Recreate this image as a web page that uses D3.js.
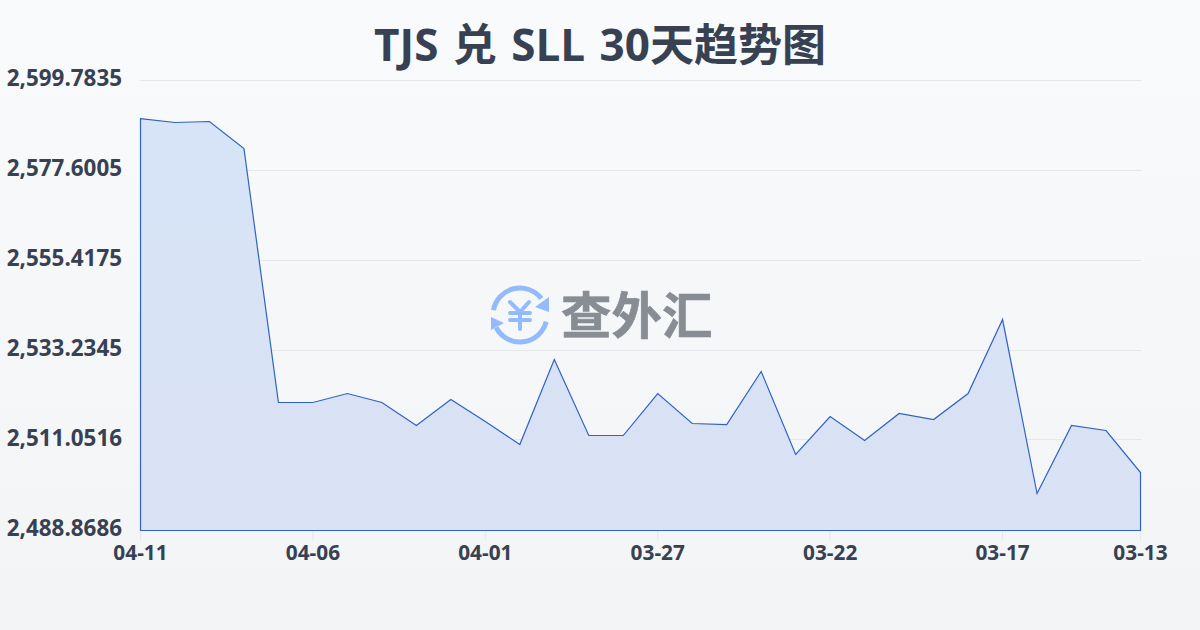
<!DOCTYPE html>
<html><head><meta charset="utf-8">
<script src="https://cdn.jsdelivr.net/npm/d3@7/dist/d3.min.js"></script>
<style>html,body{margin:0;padding:0;background:#f5f6f8}svg{display:block}</style>
</head><body><div id="c"></div>
<script>
const titleText = "TJS 兑 SLL 30天趋势图";
const watermarkText = "查外汇";
const dates = ["04-11","04-10","04-09","04-08","04-07","04-06","04-05","04-04","04-03","04-02","04-01","03-31","03-30","03-29","03-28","03-27","03-26","03-25","03-24","03-23","03-22","03-21","03-20","03-19","03-18","03-17","03-16","03-15","03-14","03-13"];
const rates = [2590.41,2589.43,2589.68,2583.02,2520.42,2520.42,2522.63,2520.42,2514.75,2521.16,2515.73,2510.06,2531.02,2512.28,2512.28,2522.63,2515.24,2514.99,2528.06,2507.60,2516.97,2511.05,2517.71,2516.23,2522.63,2540.87,2497.99,2514.75,2513.51,2503.16];
const yTicks = [2488.8686,2511.0516,2533.2345,2555.4175,2577.6005,2599.7835];
const xTickIdx = [0,5,10,15,20,25,29];

const W=1200,H=630,L=140.5,R=1140.5,T=80.5,B=530.5;
const FONT='"Open Sans","Noto Sans CJK SC",sans-serif';
const svg=d3.select("#c").append("svg").attr("width",W).attr("height",H).attr("viewBox",`0 0 ${W} ${H}`);
const defs=svg.append("defs");
const bg=defs.append("linearGradient").attr("id","bg").attr("x1",0).attr("y1",0).attr("x2",0).attr("y2",1);
bg.append("stop").attr("offset",0).attr("stop-color","#f8fafc");
bg.append("stop").attr("offset",1).attr("stop-color","#f3f4f6");
const ag=defs.append("linearGradient").attr("id","ag").attr("x1",0).attr("y1",0).attr("x2",0).attr("y2",1);
ag.append("stop").attr("offset",0).attr("stop-color","#d6e3f7");
ag.append("stop").attr("offset",1).attr("stop-color","#d9e1f4");
svg.append("rect").attr("width",W).attr("height",H).attr("fill","url(#bg)");

const x=d3.scaleLinear().domain([0,dates.length-1]).range([L,R]);
const y=d3.scaleLinear().domain([yTicks[0],yTicks[yTicks.length-1]]).range([B,T]);

svg.append("g").selectAll("line").data(yTicks).join("line")
 .attr("x1",L).attr("x2",R+1).attr("y1",d=>Math.round(y(d))-.5).attr("y2",d=>Math.round(y(d))-.5)
 .attr("stroke","#e5e7eb").attr("stroke-width",1);

const wm=svg.append("g");
const ic=wm.append("g").attr("transform","translate(520,315)").attr("fill","none").attr("stroke","#93bbfb");
ic.append("path").attr("stroke-width",5).attr("stroke-linecap","round")
 .attr("d",d3.arc()({innerRadius:27,outerRadius:27,startAngle:-1.39,endAngle:0.91}));
ic.append("path").attr("stroke-width",5).attr("stroke-linecap","round")
 .attr("d",d3.arc()({innerRadius:27,outerRadius:27,startAngle:1.82,endAngle:4.23}));
ic.append("path").attr("fill","#93bbfb").attr("stroke","none").attr("d","M29,-18 L29,-3 L15,-8 Z");
ic.append("path").attr("fill","#93bbfb").attr("stroke","none").attr("d","M-29,2 L-29,15 L-16,8 Z");
ic.append("path").attr("stroke-width",4).attr("stroke-linecap","round").attr("stroke-linejoin","round")
 .attr("d","M-10,-13 L0,-3 L9,-13 M0,-3 V14 M-10,-2 H10 M-10,5 H10");
wm.append("text").attr("x",561).attr("y",334).attr("font-family",'"Noto Sans CJK SC",sans-serif').attr("font-weight",700).attr("font-size",50.5)
 .attr("fill","#888c93").attr("stroke","#888c93").attr("stroke-width",.6).text(watermarkText);

const pts=rates.map((d,i)=>[i,d]);
const area=d3.area().x(d=>x(d[0])).y0(B).y1(d=>y(d[1]));
svg.append("path").datum(pts).attr("d",area).attr("fill","url(#ag)").attr("fill-opacity",.97)
 .attr("stroke","#2f62c4").attr("stroke-width",1.2).attr("stroke-linejoin","miter");

svg.append("g").selectAll("line").data(xTickIdx).join("line")
 .attr("x1",d=>x(d)).attr("x2",d=>x(d)).attr("y1",B+.5).attr("y2",B+10)
 .attr("stroke","#e5e7eb");
svg.append("g").selectAll("text").data(xTickIdx).join("text")
 .attr("x",d=>x(d)).attr("y",560).attr("text-anchor","middle")
 .attr("font-family",FONT).attr("font-weight",700).attr("font-size",20.8).attr("fill","#374151")
 .text(d=>dates[d]);
svg.append("g").selectAll("text").data(yTicks).join("text")
 .attr("x",122).attr("y",d=>y(d)+5.5).attr("text-anchor","end")
 .attr("font-family",FONT).attr("font-weight",700).attr("font-size",22.4).attr("fill","#374151")
 .text(d=>d3.format(",.4f")(d));
svg.append("text").attr("x",600).attr("y",60.5).attr("text-anchor","middle")
 .attr("font-family",FONT).attr("font-weight",700).attr("font-size",44).attr("word-spacing",3).attr("fill","#374151").text(titleText);
</script></body></html>
